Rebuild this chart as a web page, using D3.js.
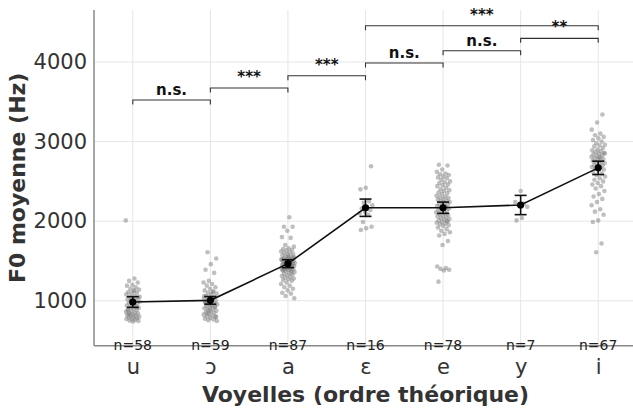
<!DOCTYPE html>
<html>
<head>
<meta charset="utf-8">
<script src="https://cdn.jsdelivr.net/npm/d3@7"></script>
<style>
body { margin: 0; background: #fff; }
text { font-family: "DejaVu Sans", sans-serif; }
</style>
</head>
<body>
<svg width="633" height="409"></svg>
<script>
var svg = d3.select('svg');

// vowel categories, in theoretical order
var vowels = ['u', 'ɔ', 'a', 'ɛ', 'e', 'y', 'i'];
var counts = [58, 59, 87, 16, 78, 7, 67];

// mean F0 and half-width of the error bar (Hz)
var means = [984, 1005, 1466, 2169, 2169, 2203, 2670];
var errs = [67, 48, 50, 109, 71, 121, 84];

// individual tokens (Hz)
var ptsU = [2010, 1280, 1250, 1230, 1200, 1190, 1170, 1150, 1140, 1120, 1110, 1100, 1090, 1080, 1060,
  1050, 1040, 1030, 1020, 1010, 1000, 990, 980, 975, 965, 950, 940, 930, 920, 910, 900, 890, 880, 870,
  860, 850, 845, 840, 830, 820, 815, 810, 800, 795, 790, 780, 775, 770, 760, 750, 745, 740, 880, 920,
  1000, 1050, 1130, 830];
var ptsO = [1610, 1530, 1460, 1390, 1350, 1250, 1230, 1210, 1190, 1170, 1150, 1130, 1120, 1100, 1090,
  1080, 1060, 1050, 1040, 1030, 1020, 1010, 1000, 995, 985, 975, 965, 955, 945, 935, 925, 915, 905, 895,
  885, 875, 865, 855, 845, 835, 825, 815, 805, 795, 785, 775, 765, 755, 745, 1000, 960, 920, 880, 1060,
  1110, 840, 800, 940, 980];
var ptsA = [2050, 1930, 1930, 1880, 1800, 1790, 1700, 1680, 1660, 1650, 1640, 1630, 1620, 1610, 1600,
  1590, 1580, 1570, 1560, 1550, 1545, 1540, 1530, 1525, 1520, 1515, 1510, 1505, 1500, 1495, 1490, 1485,
  1480, 1475, 1470, 1465, 1460, 1455, 1450, 1445, 1440, 1435, 1430, 1425, 1420, 1415, 1410, 1405, 1400,
  1395, 1390, 1385, 1380, 1370, 1360, 1350, 1340, 1330, 1320, 1310, 1300, 1290, 1280, 1270, 1260, 1250,
  1230, 1210, 1190, 1170, 1150, 1130, 1100, 1090, 1060, 1030, 1480, 1460, 1440, 1500, 1520, 1420, 1400,
  1540, 1560, 1380, 1360];
var ptsE1 = [2690, 2420, 2400, 2250, 2230, 2200, 2180, 2160, 2140, 2120, 2100, 2080, 1990, 1930, 1910, 1890];
var ptsE2 = [2710, 2700, 2650, 2620, 2600, 2590, 2580, 2560, 2550, 2540, 2520, 2500, 2490, 2480, 2460,
  2450, 2440, 2420, 2400, 2390, 2380, 2360, 2350, 2340, 2320, 2310, 2300, 2290, 2280, 2270, 2260, 2250,
  2240, 2230, 2220, 2210, 2200, 2190, 2180, 2170, 2160, 2150, 2140, 2130, 2120, 2110, 2100, 2090, 2080,
  2070, 2060, 2050, 2040, 2030, 2020, 2010, 2000, 1990, 1980, 1970, 1960, 1950, 1940, 1920, 1900, 1880,
  1860, 1840, 1820, 1750, 1700, 1430, 1410, 1400, 1390, 1380, 1240, 2000];
var ptsY = [2380, 2240, 2220, 2200, 2180, 2040, 2010];
var ptsI = [3340, 3240, 3150, 3100, 3080, 3060, 3040, 3020, 3000, 2980, 2960, 2950, 2940, 2920, 2900,
  2890, 2880, 2870, 2860, 2850, 2840, 2830, 2820, 2810, 2800, 2790, 2780, 2770, 2760, 2750, 2740, 2730,
  2720, 2710, 2700, 2690, 2680, 2670, 2660, 2650, 2640, 2620, 2600, 2580, 2560, 2540, 2520, 2500, 2480,
  2460, 2440, 2410, 2380, 2340, 2310, 2280, 2240, 2200, 2150, 2120, 2080, 2010, 1990, 1720, 1610, 2850, 2800];
var points = [ptsU, ptsO, ptsA, ptsE1, ptsE2, ptsY, ptsI];

// significance brackets between vowels
var bracketFrom = ['u', 'ɔ', 'a', 'ɛ', 'e', 'y', 'ɛ'];
var bracketTo = ['ɔ', 'a', 'ɛ', 'e', 'y', 'i', 'i'];
var bracketLevel = [3523, 3673, 3828, 3988, 4142, 4298, 4457];
var bracketLabel = ['n.s.', '***', '***', 'n.s.', 'n.s.', '**', '***'];

var yTicks = [1000, 2000, 3000, 4000];

// plot frame (note: 'top' is a reserved window global, so use other names)
var plotLeft = 94, plotRight = 637, plotTop = 10, plotBottom = 345.7;

var x = d3.scalePoint().domain(vowels).range([plotLeft, plotRight]).padding(0.5);
var y = d3.scaleLinear().domain([435, 4654]).range([plotBottom, plotTop]);

// grid
svg.append('g').selectAll('line')
    .data(yTicks).enter().append('line')
    .attr('x1', plotLeft).attr('x2', 633)
    .attr('y1', function(d){ return y(d); })
    .attr('y2', function(d){ return y(d); })
    .attr('stroke', '#e6e6e6').attr('stroke-width', 1);
svg.append('g').selectAll('line')
    .data(vowels).enter().append('line')
    .attr('x1', function(d){ return x(d); })
    .attr('x2', function(d){ return x(d); })
    .attr('y1', plotTop).attr('y2', plotBottom)
    .attr('stroke', '#e6e6e6').attr('stroke-width', 1);

// axes (spines only, no tick marks)
var yAxis = svg.append('g').attr('transform', 'translate(' + plotLeft + ',0)')
    .call(d3.axisLeft(y).tickValues(yTicks).tickSize(0).tickPadding(7).tickFormat(d3.format('d')));
yAxis.select('.domain').attr('stroke', '#888').attr('stroke-width', 1.5)
    .attr('d', 'M0,' + plotTop + 'V' + plotBottom);
yAxis.selectAll('text').attr('font-size', 21).attr('fill', '#333')
    .style('font-family', '"DejaVu Sans", sans-serif');

var xAxis = svg.append('g').attr('transform', 'translate(0,' + plotBottom + ')')
    .call(d3.axisBottom(x).tickSize(0).tickPadding(13));
xAxis.select('.domain').attr('stroke', '#888').attr('stroke-width', 1.5)
    .attr('d', 'M' + plotLeft + ',0H633');
xAxis.selectAll('text').attr('font-size', 21).attr('fill', '#333')
    .style('font-family', '"DejaVu Sans", sans-serif');

// jittered tokens
vowels.forEach(function(v, k){
    svg.append('g').selectAll('circle')
        .data(points[k]).enter().append('circle')
        .attr('cx', function(d, i){ return x(v) + (((i * 0.618034 + k * 0.3) % 1) - 0.5) * 14; })
        .attr('cy', function(d){ return y(d); })
        .attr('r', 2.3)
        .attr('fill', '#808080')
        .attr('opacity', 0.5);
});

// n labels
svg.append('g').selectAll('text')
    .data(counts).enter().append('text')
    .attr('x', function(d, i){ return x(vowels[i]); })
    .attr('y', 349.5)
    .attr('text-anchor', 'middle')
    .attr('font-size', 14)
    .attr('fill', '#222')
    .text(function(d){ return 'n=' + d; });

// mean line
var line = d3.line()
    .x(function(d, i){ return x(vowels[i]); })
    .y(function(d){ return y(d); });
svg.append('path').datum(means)
    .attr('d', line)
    .attr('fill', 'none').attr('stroke', '#111').attr('stroke-width', 1.6);

// error bars
var eb = svg.append('g').selectAll('g')
    .data(means).enter().append('g');
eb.append('line')
    .attr('x1', function(d, i){ return x(vowels[i]); })
    .attr('x2', function(d, i){ return x(vowels[i]); })
    .attr('y1', function(d, i){ return y(d - errs[i]); })
    .attr('y2', function(d, i){ return y(d + errs[i]); })
    .attr('stroke', '#111').attr('stroke-width', 1.6);
[-1, 1].forEach(function(s){
    eb.append('line')
        .attr('x1', function(d, i){ return x(vowels[i]) - 6; })
        .attr('x2', function(d, i){ return x(vowels[i]) + 6; })
        .attr('y1', function(d, i){ return y(d + s * errs[i]); })
        .attr('y2', function(d, i){ return y(d + s * errs[i]); })
        .attr('stroke', '#111').attr('stroke-width', 1.6);
});
eb.append('circle')
    .attr('cx', function(d, i){ return x(vowels[i]); })
    .attr('cy', function(d){ return y(d); })
    .attr('r', 3.6)
    .attr('fill', '#000');

// significance brackets
var br = svg.append('g').selectAll('g')
    .data(bracketLevel).enter().append('g');
br.append('path')
    .attr('d', function(d, i){
        var x1 = x(bracketFrom[i]), x2 = x(bracketTo[i]), yy = y(d);
        return 'M' + x1 + ',' + (yy + 4.5) + 'V' + yy + 'H' + x2 + 'V' + (yy + 4.5);
    })
    .attr('fill', 'none').attr('stroke', '#333').attr('stroke-width', 1.1);
br.append('text')
    .attr('x', function(d, i){ return (x(bracketFrom[i]) + x(bracketTo[i])) / 2; })
    .attr('y', function(d, i){ return y(d) - (bracketLabel[i] == 'n.s.' ? 5 : 6); })
    .attr('text-anchor', 'middle')
    .attr('font-size', 15)
    .attr('font-weight', 'bold')
    .attr('fill', '#111')
    .text(function(d, i){ return bracketLabel[i]; });

// axis titles
svg.append('text')
    .attr('x', (plotLeft + plotRight) / 2).attr('y', 401.5)
    .attr('text-anchor', 'middle')
    .attr('font-size', 22).attr('font-weight', 'bold').attr('fill', '#333')
    .text('Voyelles (ordre théorique)');
svg.append('text')
    .attr('transform', 'translate(25,' + ((plotTop + plotBottom) / 2) + ') rotate(-90)')
    .attr('text-anchor', 'middle')
    .attr('font-size', 22).attr('font-weight', 'bold').attr('fill', '#333')
    .text('F0 moyenne (Hz)');
</script>
</body>
</html>
